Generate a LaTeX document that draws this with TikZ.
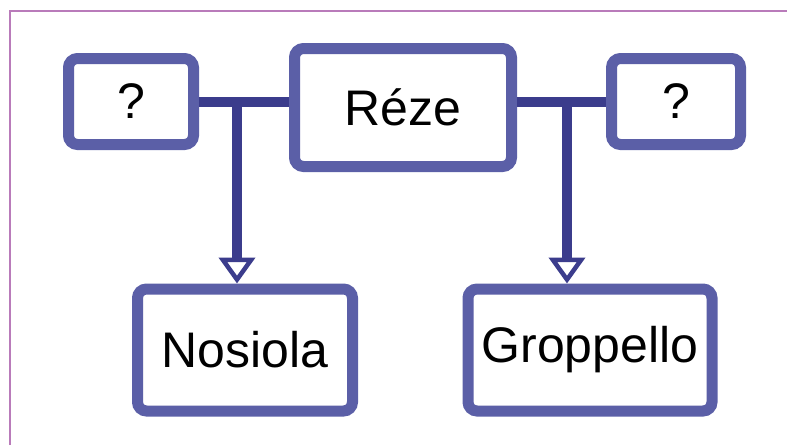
\documentclass[tikz,border=0pt]{standalone}
\usepackage{fontspec}
\setmainfont{Liberation Sans}
\usetikzlibrary{arrows.meta}
\definecolor{boxline}{HTML}{5B5FA7}
\definecolor{linkline}{HTML}{3B3C8C}
\definecolor{framecol}{HTML}{B97BBA}
\tikzset{
  grape/.style={draw=boxline, line width=11pt, rounded corners=9pt, fill=white,
    inner sep=0pt, font=\fontsize{50}{60}\selectfont},
  link/.style={draw=linkline, line width=10pt},
  down/.style={link, -{Triangle[length=26pt, width=36pt, line width=4.5pt, fill=white]}}
}
\begin{document}
\begin{tikzpicture}[x=1pt, y=-1pt]
\useasboundingbox (0,0) rectangle (787,445);
% outer frame, running off the page at right and bottom
\draw[framecol, line width=1.5pt] (10,445) -- (10,11) -- (787,11);

% parent and its two unknown neighbours
\node[grape, minimum width=125pt, minimum height=86pt] (lq) at (131,101.5) {?};
\node[grape, minimum width=217pt, minimum height=118pt] (reze) at (403,107.5) {Réze};
\node[grape, minimum width=129pt, minimum height=86pt] (rq) at (676,101.5) {?};

% offspring
\node[grape, minimum width=215pt, minimum height=122pt] (nos) at (245,350) {Nosiola};
\node[grape, minimum width=244pt, minimum height=122pt] (gro) at (590,350) {Groppello};

% pairing bars
\coordinate (jl) at (237,102);
\coordinate (jr) at (567,102);
\draw[link] (lq.east |- jl) -- (reze.west |- jl);
\draw[link] (reze.east |- jr) -- (rq.west |- jr);

% descent arrows
\draw[down] (jl) -- (jl |- nos.north);
\draw[down] (jr) -- (jr |- gro.north);
\end{tikzpicture}
\end{document}
